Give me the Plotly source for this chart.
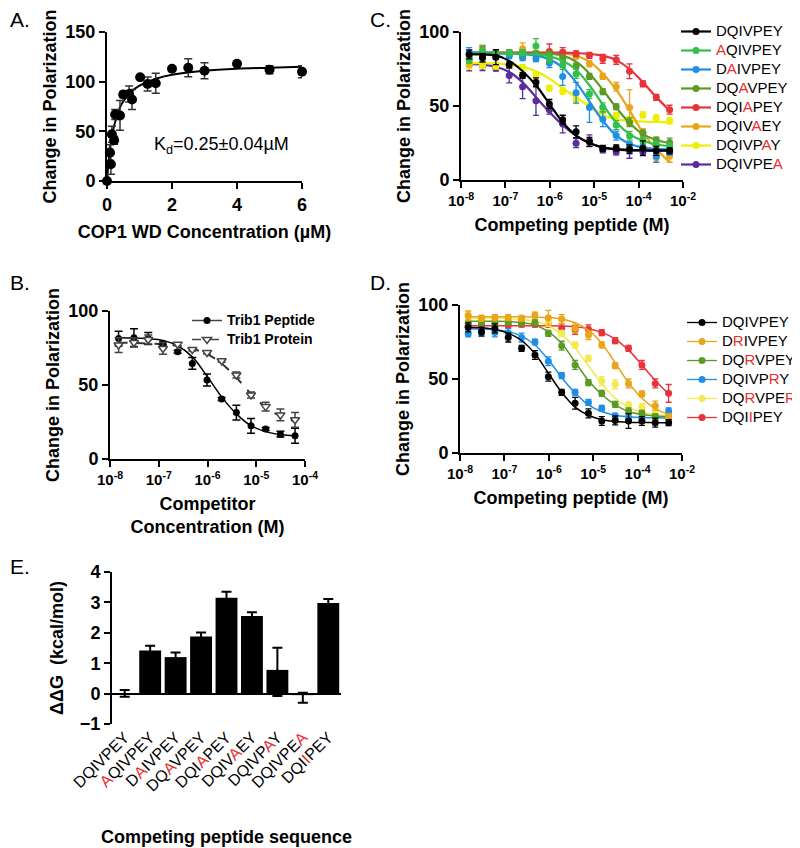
import plotly.graph_objects as go

FONT = "Liberation Sans"
RED = "#e8302f"

# ---------------- Panel A : saturation binding ----------------
a_conc = [0, 0.09, 0.12, 0.15, 0.22, 0.25, 0.4, 0.5, 0.68, 0.77, 1.02, 1.25, 1.5, 2.0, 2.5, 3.0, 4.0, 5.0, 6.0]
a_pol = [0, 28.6, 16.9, 47, 41, 67, 66, 87, 87.6, 82, 104.5, 97.7, 98.4, 113, 114, 111, 118, 112, 110]
a_err = [0, 8, 10, 8, 4, 5, 15, 3, 8, 10, 0, 7, 10, 0, 9, 8, 0, 4, 6]
a_fit_conc = [0, 0.05, 0.1, 0.2, 0.3, 0.4, 0.5, 0.75, 1, 1.5, 2, 3, 4, 5, 6]
a_fit_pol = [0, 20, 34, 53, 65, 74, 80, 90, 96, 103, 107, 111, 113, 114, 115]

# ---------------- Panel B : Trib1 competition ----------------
b_conc = [1.5e-8, 3.1e-8, 6.1e-8, 1.22e-7, 2.44e-7, 4.88e-7, 9.77e-7, 1.95e-6,
          3.91e-6, 7.81e-6, 1.56e-5, 3.13e-5, 6.25e-5]
b_peptide = [81.4, 82, 81.4, 78, 72.4, 64.6, 53.4, 40.6, 31.4, 22.4, 20.2, 16.8, 15.7]
b_peptide_err = [5, 6, 4, 1, 1, 4, 4, 1, 5, 5, 1, 2, 5]
b_peptide_fit = [82, 81.8, 81.3, 80, 76.5, 69, 56, 42, 30.5, 22.5, 18.5, 16.5, 15.5]
b_protein = [77, 78.7, 80.7, 74.7, 77.6, 74, 72, 66.4, 56.7, 43.3, 35.4, 29.8, 26.5]
b_protein_err = [5, 3, 3, 4, 1, 1, 1, 1, 2, 2, 3, 4, 5]
b_protein_fit = [78.5, 78.4, 78, 77.5, 76.5, 74.5, 71, 64.5, 55, 44, 35, 29, 25.5]

# ---------------- Panels C and D : competing peptides ----------------
cd_conc = [1.53e-8, 3.05e-8, 6.1e-8, 1.22e-7, 2.44e-7, 4.88e-7, 9.77e-7, 1.95e-6,
           3.91e-6, 7.81e-6, 1.56e-5, 3.13e-5, 6.25e-5, 1.25e-4, 2.5e-4, 5e-4]
cd_tickvals = [1e-8, 1e-7, 1e-6, 1e-5, 1e-4, 1e-3]
cd_ticktext = ["10<sup>-8</sup>", "10<sup>-7</sup>", "10<sup>-6</sup>",
               "10<sup>-5</sup>", "10<sup>-4</sup>", "10<sup>-2</sup>"]

# name parts: (plain, mutated, plain, mutated, ...)
c_names = [("DQIVPEY", "", ""), ("", "A", "QIVPEY"), ("D", "A", "IVPEY"), ("DQ", "A", "VPEY"),
           ("DQI", "A", "PEY"), ("DQIV", "A", "EY"), ("DQIVP", "A", "Y"), ("DQIVPE", "A", "")]
c_colors = ["#000000", "#34bf4d", "#1f8fe6", "#5c9a23", "#e8333a", "#e9a51c", "#eeee00", "#5b2c9b"]
c_values = [
    [84.8, 82.6, 83.0, 77.8, 70.6, 66.0, 51.4, 40.7, 32.6, 25.8, 21.3, 21.7, 20.8, 21.5, 19.7, 19.7],
    [82, 87, 85, 86, 86, 90.5, 82, 77.8, 71.7, 58.1, 49.1, 37.1, 29.9, 26.5, 24.2, 23],
    [86.4, 84, 83.5, 84, 82.6, 82, 79, 70, 59, 49, 41, 30, 23.8, 22, 16, 19],
    [82, 87, 85.5, 85.5, 85.5, 85, 85, 82.4, 77, 70, 59.7, 49.5, 39, 31.7, 27, 25.3],
    [85, 86, 85, 85.5, 85, 85, 86.9, 86.4, 85.3, 84.2, 81.9, 81.2, 73.5, 65, 55.9, 47.5],
    [80, 88, 85, 86, 88.7, 85, 86, 85.5, 83.7, 78.5, 70, 63, 49, 31.7, 15, 16],
    [78, 77.5, 77, 78, 76, 71, 62, 60, 54, 50, 47, 43.5, 41, 44, 42, 40],
    [77.8, 77, 75.6, 70.6, 63, 53.6, 47.5, 37.8, 24.9, 26.5, 20.4, 19, 19.7, 19, 19.7, 19.7],
]
c_errors = [
    [3, 3, 5, 2, 2, 3, 3, 3, 4, 3, 2, 2, 3, 5, 3, 2],
    [3, 4, 2, 2, 2, 5, 3, 3, 3, 3, 3, 3, 3, 2, 2, 2],
    [3, 2, 2, 2, 2, 2, 3, 6, 7, 10, 5, 3, 2, 2, 4, 2],
    [3, 3, 2, 2, 2, 2, 2, 2, 2, 2, 2, 2, 3, 2, 2, 3],
    [3, 4, 2, 2, 2, 2, 5, 3, 2, 2, 3, 3, 5, 2, 2, 3],
    [3, 3, 2, 2, 4, 2, 2, 2, 2, 2, 2, 3, 12, 3, 3, 4],
    [3, 2, 2, 2, 2, 2, 2, 2, 2, 2, 2, 2, 2, 2, 2, 2],
    [4, 3, 2, 5, 8, 10, 3, 6, 3, 4, 2, 2, 5, 2, 2, 2],
]
c_fits = [
    [85, 84.8, 84.2, 80.5, 73.5, 64, 51.5, 39, 30, 25, 22, 20.8, 20.3, 20.1, 20, 20],
    [85.5, 85.5, 85.5, 85.4, 85.2, 84.8, 83.5, 80.5, 74.5, 64, 51, 39, 31, 26.5, 24, 23],
    [86, 86, 85.8, 85.5, 85, 84, 81.5, 76, 66, 53, 40, 30, 24.5, 22, 21, 20.5],
    [85.5, 85.5, 85.5, 85.5, 85.5, 85.4, 85.2, 84, 80, 72, 61, 49, 38.5, 31, 27, 25],
    [86, 86, 86, 86, 86, 86, 86, 86, 85.8, 85.2, 84, 81, 75, 66, 56, 47],
    [86, 86, 86, 86, 86, 86, 85.8, 85.5, 84, 80, 72, 61, 47, 32, 21, 12],
    [79, 79, 78.7, 78, 76.5, 73.5, 68.5, 62, 56, 49.5, 44, 41, 40, 39.5, 39.2, 39],
    [78.5, 78, 76.5, 73, 66, 56, 46, 37, 30, 25, 22, 20.5, 20, 19.8, 19.7, 19.7],
]

d_names = [("DQIVPEY", "", ""), ("D", "R", "IVPEY"), ("DQ", "R", "VPEY"), ("DQIVP", "R", "Y"),
           ("DQ", "R", "VPE", "R"), ("DQI", "I", "PEY")]
d_colors = ["#000000", "#e9a51c", "#5c9a23", "#1f8fe6", "#f2ea4f", "#e8333a"]
d_values = [
    [84.9, 82, 84.2, 78, 70.7, 66.2, 51.6, 41, 33.6, 26.8, 21.6, 22, 21.6, 21.6, 20.5, 20.5],
    [92.8, 91, 91.4, 91.5, 91, 93.2, 91.4, 90.5, 84.2, 79.7, 73, 59, 47, 39.9, 32, 24.5],
    [87.6, 88.3, 88, 88.5, 88, 88, 80.9, 72.5, 59.5, 47.5, 40.3, 32.9, 28.4, 26.8, 24.5, 23.9],
    [80.5, 81.5, 81.5, 81, 78, 75, 62, 52.3, 41, 34.2, 30.2, 25, 24, 24, 24, 28.4],
    [93.2, 91, 91.5, 90.5, 89.9, 88.7, 87.6, 80.9, 73, 64, 48.6, 46.4, 32.4, 31.3, 28, 26.1],
    [85.6, 87, 86, 86.5, 87, 87, 87, 84.2, 83.1, 83.6, 81.3, 75.9, 70.7, 59.5, 47, 40.3],
]
d_errors = [
    [3, 3, 3, 3, 2, 3, 3, 2, 4, 3, 3, 3, 5, 3, 3, 2],
    [3, 2, 2, 2, 2, 2, 5, 3, 3, 3, 2, 2, 3, 2, 3, 2],
    [2, 2, 2, 2, 2, 2, 2, 3, 3, 2, 2, 2, 2, 2, 2, 2],
    [2, 2, 3, 3, 3, 2, 3, 2, 2, 2, 2, 2, 2, 2, 2, 2],
    [3, 2, 2, 2, 2, 2, 2, 2, 2, 2, 3, 3, 2, 2, 2, 2],
    [2, 2, 2, 2, 2, 2, 2, 3, 3, 3, 2, 2, 2, 3, 3, 6],
]
d_fits = [
    [85, 84.5, 83.5, 81, 76, 67, 54, 41, 31, 25.5, 22.5, 21.3, 20.8, 20.6, 20.5, 20.5],
    [92, 92, 92, 92, 92, 91.8, 91.5, 90.5, 88, 83, 74, 61, 47.5, 37, 30, 26],
    [89, 89, 89, 88.8, 88, 86.5, 82, 74, 61.5, 49, 39.5, 32.5, 28, 26, 25, 24.5],
    [84, 83.8, 83.3, 82, 79, 73, 63, 51, 40.5, 32.5, 28, 25.5, 24.5, 24, 23.8, 23.7],
    [91, 91, 91, 90.8, 90.3, 89, 86, 80, 71, 59, 47, 37, 31, 27.5, 26, 25],
    [86, 86, 86, 86, 86, 86, 86, 85.8, 85.3, 84, 81.5, 77, 69.5, 59.5, 49, 40],
]

# ---------------- Panel E : ddG bars ----------------
e_names = [("DQIVPEY", "", ""), ("", "A", "QIVPEY"), ("D", "A", "IVPEY"), ("DQ", "A", "VPEY"),
           ("DQI", "A", "PEY"), ("DQIV", "A", "EY"), ("DQIVP", "A", "Y"), ("DQIVPE", "A", ""),
           ("DQI", "I", "PEY")]
e_ddg = [0.0, 1.42, 1.2, 1.88, 3.15, 2.55, 0.78, -0.05, 2.98]
e_err_plus = [0.12, 0.15, 0.15, 0.13, 0.2, 0.13, 0.73, 0.08, 0.13]
e_err_minus = [0.1, 0.15, 0.15, 0.13, 0.2, 0.13, 0.86, 0.25, 0.13]


def label(parts, size=None):
    """Build a label with the mutated residue(s) in red."""
    sz = f"font-size:{size}px;" if size else ""
    out = []
    for i, p in enumerate(parts):
        if not p:
            continue
        if i % 2 == 1:
            out.append(f'<span style="{sz}color:{RED}">{p}</span>')
        else:
            out.append(f'<span style="{sz}">{p}</span>' if sz else p)
    return "".join(out)


fig = go.Figure()

# ---- A ----
fig.add_trace(go.Scatter(x=a_fit_conc, y=a_fit_pol, mode="lines", line=dict(color="black", width=2, shape="spline"),
                         xaxis="x", yaxis="y", showlegend=False, hoverinfo="skip"))
fig.add_trace(go.Scatter(x=a_conc, y=a_pol, mode="markers", marker=dict(color="black", size=10),
                         error_y=dict(type="data", array=a_err, color="#333333", thickness=1.5, width=4),
                         xaxis="x", yaxis="y", showlegend=False, cliponaxis=False))

# ---- B ----
fig.add_trace(go.Scatter(x=b_conc, y=b_peptide_fit, mode="lines", line=dict(color="black", width=1.5, shape="spline"),
                         xaxis="x2", yaxis="y2", showlegend=False, hoverinfo="skip"))
fig.add_trace(go.Scatter(x=b_conc, y=b_protein_fit, mode="lines",
                         line=dict(color="#333333", width=2, dash="dash", shape="spline"),
                         xaxis="x2", yaxis="y2", showlegend=False, hoverinfo="skip"))
fig.add_trace(go.Scatter(x=b_conc, y=b_peptide, mode="markers", marker=dict(color="black", size=7),
                         error_y=dict(type="data", array=b_peptide_err, color="black", thickness=1.5, width=4),
                         xaxis="x2", yaxis="y2", showlegend=False, cliponaxis=False))
fig.add_trace(go.Scatter(x=b_conc, y=b_protein, mode="markers",
                         marker=dict(color="white", size=8, symbol="triangle-down",
                                     line=dict(color="#444444", width=1.5)),
                         error_y=dict(type="data", array=b_protein_err, color="#444444", thickness=1.5, width=4),
                         xaxis="x2", yaxis="y2", showlegend=False, cliponaxis=False))
fig.add_trace(go.Scatter(x=[None], y=[None], mode="lines+markers",
                         name='<b><span style="font-size:14px">Trib1 Peptide</span></b>',
                         line=dict(color="#444444", width=1.5), marker=dict(color="black", size=7),
                         xaxis="x2", yaxis="y2", legend="legend"))
fig.add_trace(go.Scatter(x=[None], y=[None], mode="lines+markers",
                         name='<b><span style="font-size:14px">Trib1 Protein</span></b>',
                         line=dict(color="#444444", width=1.5, dash="dash"),
                         marker=dict(color="white", size=8, symbol="triangle-down", line=dict(color="#444444", width=1.5)),
                         xaxis="x2", yaxis="y2", legend="legend"))

# ---- C ----
for i in reversed(range(len(c_names))):
    col = c_colors[i]
    fig.add_trace(go.Scatter(x=cd_conc, y=c_fits[i], mode="lines", line=dict(color=col, width=2.2, shape="spline"),
                             xaxis="x3", yaxis="y3", showlegend=False, hoverinfo="skip"))
    fig.add_trace(go.Scatter(x=cd_conc, y=c_values[i], mode="markers", marker=dict(color=col, size=7),
                             error_y=dict(type="data", array=c_errors[i], color=col, thickness=1.3, width=3),
                             xaxis="x3", yaxis="y3", showlegend=False, cliponaxis=False))
for i in range(len(c_names)):
    fig.add_trace(go.Scatter(x=[None], y=[None], mode="lines+markers", name=label(c_names[i], 15),
                             line=dict(color=c_colors[i], width=2.2), marker=dict(color=c_colors[i], size=7),
                             xaxis="x3", yaxis="y3", legend="legend2"))

# ---- D ----
for i in reversed(range(len(d_names))):
    col = d_colors[i]
    fig.add_trace(go.Scatter(x=cd_conc, y=d_fits[i], mode="lines", line=dict(color=col, width=1.5, shape="spline"),
                             xaxis="x4", yaxis="y4", showlegend=False, hoverinfo="skip"))
    fig.add_trace(go.Scatter(x=cd_conc, y=d_values[i], mode="markers", marker=dict(color=col, size=7),
                             error_y=dict(type="data", array=d_errors[i], color=col, thickness=1.3, width=3),
                             xaxis="x4", yaxis="y4", showlegend=False, cliponaxis=False))
for i in range(len(d_names)):
    fig.add_trace(go.Scatter(x=[None], y=[None], mode="lines+markers", name=label(d_names[i], 15),
                             line=dict(color=d_colors[i], width=1.3), marker=dict(color=d_colors[i], size=7),
                             xaxis="x4", yaxis="y4", legend="legend3"))

# ---- E ----
e_cats = [label(p) for p in e_names]
fig.add_trace(go.Bar(x=e_cats, y=e_ddg, marker=dict(color="black", line=dict(width=0)),
                     error_y=dict(type="data", array=e_err_plus, arrayminus=e_err_minus, symmetric=False,
                                  color="black", thickness=2, width=5),
                     xaxis="x5", yaxis="y5", showlegend=False, width=0.86))

# The page body adds an 8 px offset; the figure is sized so it fits the window.
OFF = 8
W, H = 800 - OFF, 848 - OFF


def px(x):
    return (x - OFF) / W


def py(y):
    return 1 - (y - OFF) / H


def xd(a, b):
    return [px(a), px(b)]


def yd(top, bottom):
    return [py(bottom), py(top)]


def axis(**kw):
    base = dict(showline=True, linecolor="black", linewidth=2, ticks="outside", ticklen=6, tickwidth=2,
                tickcolor="black", showgrid=False, zeroline=False, automargin=False,
                tickfont=dict(family=FONT, size=18, color="black", weight="bold"),
                title_font=dict(family=FONT, size=18, color="black", weight="bold"))
    base.update(kw)
    return base


logtick = dict(family=FONT, size=15, color="black", weight="bold")
legfont = dict(family=FONT, size=11, color="black")

fig.update_layout(
    width=W, height=H, margin=dict(l=0, r=0, t=0, b=0, autoexpand=False),
    paper_bgcolor="white", plot_bgcolor="white",
    font=dict(family=FONT, color="black"),
    bargap=0.14,
    # A
    xaxis=axis(domain=xd(107, 302), range=[0, 6], tickvals=[0, 2, 4, 6], anchor="y",
               title=dict(text="COP1 WD Concentration (µM)", standoff=12)),
    yaxis=axis(domain=yd(32, 181), range=[0, 150], tickvals=[0, 50, 100, 150], anchor="x",
               title=dict(text="Change in Polarization", standoff=4)),
    # B
    xaxis2=axis(domain=xd(110, 305), type="log", range=[-8, -4], anchor="y2",
                tickvals=[1e-8, 1e-7, 1e-6, 1e-5, 1e-4],
                ticktext=["10<sup>-8</sup>", "10<sup>-7</sup>", "10<sup>-6</sup>", "10<sup>-5</sup>", "10<sup>-4</sup>"],
                tickfont=logtick,
                title=dict(text="Competitor<br>Concentration (M)", standoff=10)),
    yaxis2=axis(domain=yd(311, 459), range=[0, 100], tickvals=[0, 50, 100], anchor="x2",
                title=dict(text="Change in Polarization", standoff=4)),
    # C
    xaxis3=axis(domain=xd(461, 683), type="log", range=[-8, -3], anchor="y3",
                tickvals=cd_tickvals, ticktext=cd_ticktext, tickfont=logtick,
                title=dict(text="Competing peptide (M)", standoff=10)),
    yaxis3=axis(domain=yd(32, 180), range=[0, 100], tickvals=[0, 50, 100], anchor="x3",
                title=dict(text="Change in Polarization", standoff=4)),
    # D
    xaxis4=axis(domain=xd(460, 682), type="log", range=[-8, -3], anchor="y4",
                tickvals=cd_tickvals, ticktext=cd_ticktext, tickfont=logtick,
                title=dict(text="Competing peptide (M)", standoff=10)),
    yaxis4=axis(domain=yd(305, 453), range=[0, 100], tickvals=[0, 50, 100], anchor="x4",
                title=dict(text="Change in Polarization", standoff=4)),
    # E
    xaxis5=axis(domain=xd(112, 341), range=[-0.5, 8.5], anchor="y5", showline=False, ticks="",
                tickangle=-45, tickfont=dict(family=FONT, size=16, color="black"),
                title=dict(text="Competing peptide sequence", standoff=36)),
    yaxis5=axis(domain=yd(572, 724), range=[-1, 4], tickvals=[-1, 0, 1, 2, 3, 4], anchor="x5",
                zeroline=True, zerolinecolor="black", zerolinewidth=2,
                title=dict(text="ΔΔG\u00a0\u00a0(kcal/mol)", standoff=12)),
    legend=dict(x=px(187), y=py(306), xanchor="left", yanchor="top", bgcolor="rgba(0,0,0,0)",
                font=legfont, itemwidth=30, tracegroupgap=0),
    legend2=dict(x=px(676), y=py(17), xanchor="left", yanchor="top", bgcolor="rgba(0,0,0,0)",
                 font=legfont, itemwidth=30, tracegroupgap=0),
    legend3=dict(x=px(682), y=py(308), xanchor="left", yanchor="top", bgcolor="rgba(0,0,0,0)",
                 font=legfont, itemwidth=30, tracegroupgap=0),
)

# Panel letters and Kd annotation
for txt, x0, y0 in [("A.", 8, 20), ("B.", 8, 283), ("C.", 368, 20), ("D.", 368, 283), ("E.", 8, 566)]:
    fig.add_annotation(text=txt, x=px(x0), y=py(y0), xref="paper", yref="paper", xanchor="left",
                       yanchor="middle", showarrow=False, font=dict(family=FONT, size=21, color="black"))
fig.add_annotation(text="K<sub>d</sub>=0.25±0.04µM", x=px(221), y=py(146), xref="paper", yref="paper",
                   xanchor="center", yanchor="middle", showarrow=False,
                   font=dict(family=FONT, size=18, color="black"))

fig.write_html("out.html")
